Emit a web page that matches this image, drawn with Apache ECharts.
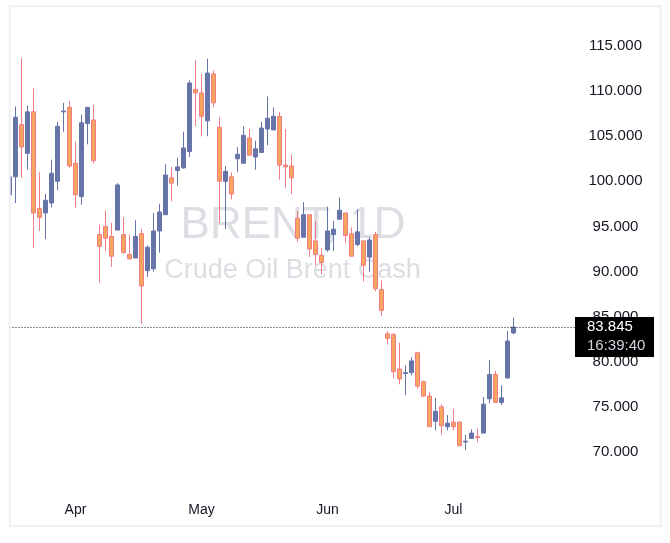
<!DOCTYPE html>
<html>
<head>
<meta charset="utf-8">
<script src="https://cdn.jsdelivr.net/npm/echarts@6/dist/echarts.min.js"></script>
<style>
    html, body { margin: 0; padding: 0; background: #fff; }
    #brent { width: 670px; height: 543px; }
</style>
</head>
<body>
<div id="brent"></div>
<script>
    // daily bars
    var dates = [
        '2022-03-17', '2022-03-18', '2022-03-21', '2022-03-22', '2022-03-23', '2022-03-24', '2022-03-25',
        '2022-03-28', '2022-03-29', '2022-03-30', '2022-03-31',
        '2022-04-01', '2022-04-04', '2022-04-05', '2022-04-06', '2022-04-07', '2022-04-08', '2022-04-11',
        '2022-04-12', '2022-04-13', '2022-04-14', '2022-04-15', '2022-04-18', '2022-04-19', '2022-04-20',
        '2022-04-21', '2022-04-22', '2022-04-25', '2022-04-26', '2022-04-27', '2022-04-28', '2022-04-29',
        '2022-05-03', '2022-05-04', '2022-05-05', '2022-05-06', '2022-05-09', '2022-05-10', '2022-05-11',
        '2022-05-12', '2022-05-13', '2022-05-16', '2022-05-17', '2022-05-18', '2022-05-19', '2022-05-20',
        '2022-05-23', '2022-05-24', '2022-05-25', '2022-05-26', '2022-05-27', '2022-05-30', '2022-05-31',
        '2022-06-01', '2022-06-02', '2022-06-03', '2022-06-06', '2022-06-07', '2022-06-08', '2022-06-09',
        '2022-06-10', '2022-06-13', '2022-06-14', '2022-06-15', '2022-06-16', '2022-06-17', '2022-06-21',
        '2022-06-22', '2022-06-23', '2022-06-24', '2022-06-27', '2022-06-28', '2022-06-29', '2022-06-30',
        '2022-07-01', '2022-07-05', '2022-07-06', '2022-07-07', '2022-07-08', '2022-07-11', '2022-07-12',
        '2022-07-13', '2022-07-14', '2022-07-15', '2022-07-18'
    ];
    var opens = [
        98.5, 100.5, 106.3, 103.1, 107.7, 97.0, 96.5, 97.6, 100.0, 107.7,
        108.2, 102.0, 98.3, 106.4, 106.8, 94.1, 95.0, 93.9, 94.6, 94.1,
        91.9, 91.5, 94.2, 90.1, 90.3, 94.5, 96.3, 100.4, 101.2, 101.5,
        103.3, 110.2, 109.8, 106.7, 111.9, 106.0, 100.0, 100.5, 102.5, 102.0,
        104.8, 102.7, 103.2, 105.8, 105.7, 107.2, 101.8, 101.7, 95.9, 93.8,
        96.3, 93.4, 91.8, 92.4, 94.1, 95.8, 96.5, 94.2, 93.0, 93.4,
        91.6, 94.1, 88.0, 83.1, 83.0, 79.2, 78.7, 78.8, 81.0, 77.8,
        76.2, 73.4, 75.0, 72.8, 73.3, 73.3, 71.1, 71.5, 71.7, 72.1,
        75.9, 78.6, 75.5, 78.2, 83.2
    ];
    var closes = [
        100.5, 107.1, 103.8, 107.7, 96.5, 96.0, 97.9, 100.9, 106.1, 107.8,
        101.7, 98.5, 106.5, 108.2, 102.3, 92.8, 93.7, 91.7, 99.6, 92.1,
        91.4, 93.9, 88.4, 92.7, 94.5, 96.6, 100.7, 99.8, 101.6, 103.7,
        110.9, 109.8, 107.2, 112.0, 108.7, 100.0, 101.1, 98.6, 103.0, 105.1,
        102.9, 103.6, 105.9, 107.0, 107.2, 101.8, 101.6, 100.4, 93.7, 96.3,
        92.5, 91.9, 91.0, 94.5, 94.7, 96.8, 94.0, 91.7, 94.4, 90.7,
        93.5, 88.1, 85.7, 82.6, 78.9, 78.1, 78.8, 80.1, 77.3, 76.2,
        72.8, 74.5, 72.9, 73.2, 72.8, 70.7, 71.2, 72.1, 71.6, 75.3,
        78.6, 75.5, 76.0, 82.3, 83.845
    ];
    var highs = [
        100.5, 108.3, 113.7, 108.4, 110.3, 101.0, 98.6, 102.4, 106.6, 108.7,
        108.9, 104.4, 107.4, 108.2, 108.5, 95.2, 96.8, 95.4, 99.8, 96.0,
        94.1, 95.7, 94.7, 92.9, 96.5, 97.5, 101.9, 101.6, 102.6, 105.5,
        111.2, 113.4, 111.9, 113.6, 112.3, 107.1, 101.7, 101.0, 103.8, 106.1,
        105.8, 104.5, 106.6, 109.4, 108.2, 107.7, 105.8, 103.0, 96.7, 97.7,
        96.3, 95.6, 92.6, 97.2, 95.6, 98.2, 96.5, 94.9, 96.9, 93.4,
        93.8, 94.4, 89.0, 83.4, 83.2, 82.1, 79.6, 80.5, 81.1, 77.9,
        76.6, 76.0, 75.3, 74.1, 74.8, 73.4, 71.9, 72.5, 72.6, 76.1,
        80.2, 79.0, 77.4, 83.4, 84.9
    ];
    var lows = [
        98.5, 97.6, 100.4, 101.3, 92.6, 94.5, 93.6, 97.1, 99.0, 105.5,
        101.5, 97.1, 97.4, 104.1, 102.0, 88.8, 92.3, 90.5, 94.6, 92.0,
        91.4, 91.5, 84.2, 89.4, 90.0, 92.1, 96.3, 97.8, 99.5, 101.4,
        102.7, 106.1, 105.0, 105.0, 108.2, 95.4, 94.7, 98.0, 101.0, 102.0,
        102.9, 101.3, 103.2, 104.0, 105.7, 100.2, 99.3, 98.6, 93.3, 93.8,
        91.6, 90.7, 89.7, 92.2, 92.3, 95.8, 93.2, 91.7, 92.8, 88.9,
        90.0, 87.8, 85.1, 81.9, 78.2, 77.5, 76.3, 78.5, 77.0, 76.1,
        72.8, 72.4, 71.9, 72.4, 72.4, 70.7, 70.2, 71.5, 71.1, 72.1,
        75.4, 75.5, 75.2, 78.2, 83.05
    ];
    var monthNames = ['Jan', 'Feb', 'Mar', 'Apr', 'May', 'Jun', 'Jul', 'Aug', 'Sep', 'Oct', 'Nov', 'Dec'];
    var lastTime = '16:39:40';

    var upColor = '#6774a8';
    var downColor = '#f8a65b';
    var downBorder = '#f07a85';
    var font = 'Liberation Sans';

    // empty slots to the right, like the time axis in the original
    var categories = dates.concat(new Array(10).fill(''));

    var ohlc = dates.map(function (d, i) {
        return [opens[i], closes[i], lows[i], highs[i]];
    });
    var lastClose = closes[closes.length - 1];

    var myChart = echarts.init(document.getElementById('brent'));

    myChart.setOption({
        animation: false,
        backgroundColor: '#ffffff',
        grid: {
            left: 6.5,
            right: 93.5,
            top: 0.89,
            bottom: 45.89
        },
        xAxis: {
            type: 'category',
            data: categories,
            boundaryGap: true,
            axisLine: { show: false },
            axisTick: { show: false },
            splitLine: { show: false },
            axisLabel: {
                margin: 6,
                color: '#131722',
                fontFamily: font,
                fontSize: 14,
                interval: function (index, value) {
                    if (!value || index === 0) return false;
                    return value.slice(5, 7) !== categories[index - 1].slice(5, 7);
                },
                formatter: function (value) {
                    return monthNames[parseInt(value.slice(5, 7), 10) - 1];
                }
            }
        },
        yAxis: {
            type: 'value',
            position: 'right',
            scale: true,
            min: 65,
            max: 120,
            interval: 5,
            axisLine: { show: false },
            axisTick: { show: false },
            splitLine: { show: false },
            axisLabel: {
                showMinLabel: false,
                showMaxLabel: false,
                align: 'center',
                margin: 39,
                color: '#131722',
                fontFamily: font,
                fontSize: 15,
                formatter: function (v) {
                    return v.toFixed(3);
                }
            }
        },
        series: [{
            name: 'BRENT',
            type: 'candlestick',
            data: ohlc,
            barWidth: 4,
            itemStyle: {
                color: upColor,
                color0: downColor,
                borderColor: upColor,
                borderColor0: downBorder,
                borderWidth: 1
            },
            markLine: {
                silent: true,
                symbol: 'none',
                label: { show: false },
                lineStyle: { color: '#131722', width: 1, type: [1, 2] },
                data: [{ yAxis: lastClose }]
            }
        }]
    });

    // last price tag sits on the price scale
    var py = myChart.convertToPixel({ yAxisIndex: 0 }, lastClose);

    myChart.setOption({
        graphic: [
            {
                type: 'text', z: -1, silent: true,
                style: {
                    x: 293, y: 226, text: 'BRENT, 1D',
                    font: 'normal 44px "Liberation Sans"',
                    fill: '#dcdee3', textAlign: 'center', textVerticalAlign: 'middle'
                }
            },
            {
                type: 'text', z: -1, silent: true,
                style: {
                    x: 292.5, y: 271, text: 'Crude Oil Brent Cash',
                    font: 'normal 27px "Liberation Sans"',
                    fill: '#dcdee3', textAlign: 'center', textVerticalAlign: 'middle'
                }
            },
            {
                type: 'rect', z: 100, silent: true,
                shape: { x: 0, y: 0, width: 9, height: 543 },
                style: { fill: '#ffffff' }
            },
            {
                type: 'rect', z: 101, silent: true,
                shape: { x: 9.7, y: 6.2, width: 651, height: 519.8 },
                style: { fill: null, stroke: '#eff0f2', lineWidth: 2 }
            },
            {
                type: 'rect', z: 102, silent: true,
                shape: { x: 575, y: py - 10, width: 79, height: 40 },
                style: { fill: '#000000' }
            },
            {
                type: 'text', z: 103, silent: true,
                style: {
                    x: 587, y: py, text: lastClose.toFixed(3),
                    font: 'normal 15px "Liberation Sans"',
                    fill: '#ffffff', textVerticalAlign: 'middle'
                }
            },
            {
                type: 'text', z: 103, silent: true,
                style: {
                    x: 587, y: py + 19, text: lastTime,
                    font: 'normal 15px "Liberation Sans"',
                    fill: '#d1d4dc', textVerticalAlign: 'middle'
                }
            }
        ]
    });
</script>
</body>
</html>
